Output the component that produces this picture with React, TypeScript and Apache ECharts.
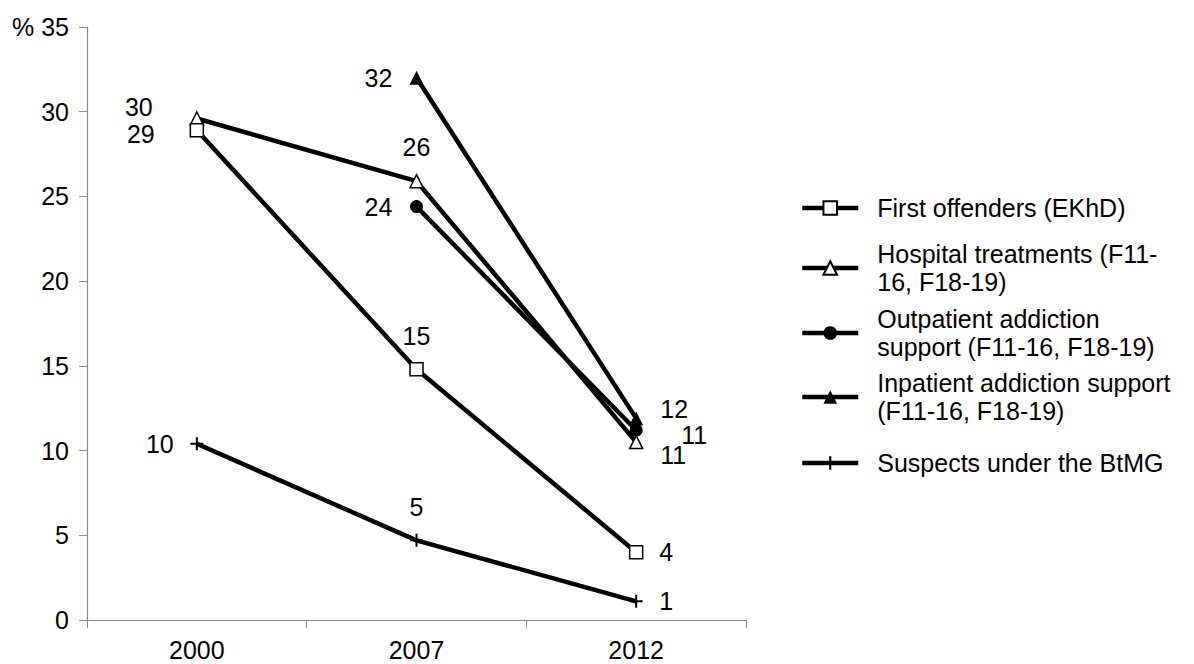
import React, { useEffect, useRef } from "react";
import * as echarts from "echarts";

const years = ["2000", "2007", "2012"];
const seriesNames = [
  "First offenders (EKhD)",
  "Hospital treatments (F11-16, F18-19)",
  "Outpatient addiction support (F11-16, F18-19)",
  "Inpatient addiction support (F11-16, F18-19)",
  "Suspects under the BtMG",
];
const legendLabels = [
  "First offenders (EKhD)",
  "Hospital treatments (F11-\n16, F18-19)",
  "Outpatient addiction\nsupport (F11-16, F18-19)",
  "Inpatient addiction support\n(F11-16, F18-19)",
  "Suspects under the BtMG",
];
const firstOffenders = [28.9, 14.8, 4.0];
const hospital = [29.6, 25.9, 10.5];
const outpatient = [null, 24.4, 11.2];
const inpatient = [null, 32.0, 11.9];
const suspects = [10.4, 4.7, 1.1];
const yTicks = { min: 0, max: 35, interval: 5 };

// label offsets (style only)
const offFirst = [[-56, 4], [0, -33], [30, 0]];
const offHosp = [[-58, -11], [0, -34], [37, 13]];
const offOut = [[0, 0], [-38, 0], [58, 5]];
const offIn = [[0, 0], [-38, 0], [38, -9]];
const offSus = [[-37, 0], [0, -33], [30, 0]];

const FONT = "'Liberation Sans', Arial, sans-serif";
const FS = 25;

const plusPath = "path://M5.5,0H7.5V5.5H13V7.5H7.5V13H5.5V7.5H0V5.5H5.5Z";

function mkData(vals: (number | null)[], offs: number[][]) {
  return vals.map((v, i) =>
    v === null
      ? "-"
      : {
          value: v,
          label: {
            show: true,
            position: "inside",
            offset: offs[i],
            formatter: (p: any) => String(Math.round(p.value)),
            fontSize: FS,
            fontFamily: FONT,
            color: "#000",
          },
        }
  );
}

export default function App() {
  const ref = useRef<HTMLDivElement>(null);
  useEffect(() => {
    if (!ref.current) return;
    const chart = echarts.init(ref.current, undefined, { renderer: "svg" });
    const lineStyle = { color: "#000", width: 4.5 };
    const baseSeries = (name: string, data: any[], symbol: string, size: number, itemStyle: any, z: number) => ({
      name,
      type: "line",
      data,
      symbol,
      symbolSize: size,
      showAllSymbol: true,
      lineStyle,
      itemStyle,
      z,
      emphasis: { disabled: true },
    });
    const legendTops = [193.75, 228.25, 293.25, 362.75, 448.75];
    const legendPads = [
      [0, 0, 0, 14],
      [22.5, 0, 0, 14],
      [22.5, 0, 0, 14],
      [11.5, 0, 0, 14],
      [0, 0, 0, 14],
    ];
    const option: any = {
      animation: false,
      backgroundColor: "#fff",
      grid: { left: 87, right: 448, top: 27, bottom: 44, containLabel: false },
      legend: seriesNames.map((n, i) => ({
        data: [n],
        left: 800,
        top: legendTops[i],
        orient: "vertical",
        padding: 0,
        itemWidth: 56,
        itemHeight: 17,
        selectedMode: false,
        lineStyle: { width: 4.5 },
        formatter: (name: string) => legendLabels[seriesNames.indexOf(name)],
        textStyle: {
          fontSize: FS,
          fontFamily: FONT,
          color: "#000",
          lineHeight: 28.5,
          padding: legendPads[i],
        },
      })),
      xAxis: {
        type: "category",
        data: years,
        boundaryGap: true,
        axisLine: { lineStyle: { color: "#868686", width: 1.2 } },
        axisTick: { show: true, length: 8, inside: false, lineStyle: { color: "#868686" } },
        axisLabel: { fontSize: FS, fontFamily: FONT, color: "#000", margin: 17 },
        splitLine: { show: false },
      },
      yAxis: {
        type: "value",
        min: yTicks.min,
        max: yTicks.max,
        interval: yTicks.interval,
        axisLine: { show: true, lineStyle: { color: "#868686", width: 1.2 } },
        axisTick: { show: true, length: 8, lineStyle: { color: "#868686" } },
        axisLabel: {
          fontSize: FS,
          fontFamily: FONT,
          color: "#000",
          margin: 18,
          formatter: (v: number) => (v === 35 ? "% 35" : String(v)),
        },
        splitLine: { show: false },
      },
      series: [
        baseSeries(seriesNames[0], mkData(firstOffenders, offFirst), "rect", 13, { color: "#fff", borderColor: "#000", borderWidth: 1.5 }, 5),
        baseSeries(seriesNames[1], mkData(hospital, offHosp), "triangle", 13, { color: "#fff", borderColor: "#000", borderWidth: 1.5 }, 4),
        baseSeries(seriesNames[2], mkData(outpatient, offOut), "circle", 13, { color: "#000" }, 3),
        baseSeries(seriesNames[3], mkData(inpatient, offIn), "triangle", 14, { color: "#000" }, 2),
        baseSeries(seriesNames[4], mkData(suspects, offSus), plusPath, 13, { color: "#000" }, 1),
      ],
    };
    chart.setOption(option);
    return () => chart.dispose();
  }, []);
  return (
    <div
      ref={ref}
      style={{ position: "fixed", left: 0, top: 0, width: 1194, height: 664, background: "#fff" }}
    />
  );
}
